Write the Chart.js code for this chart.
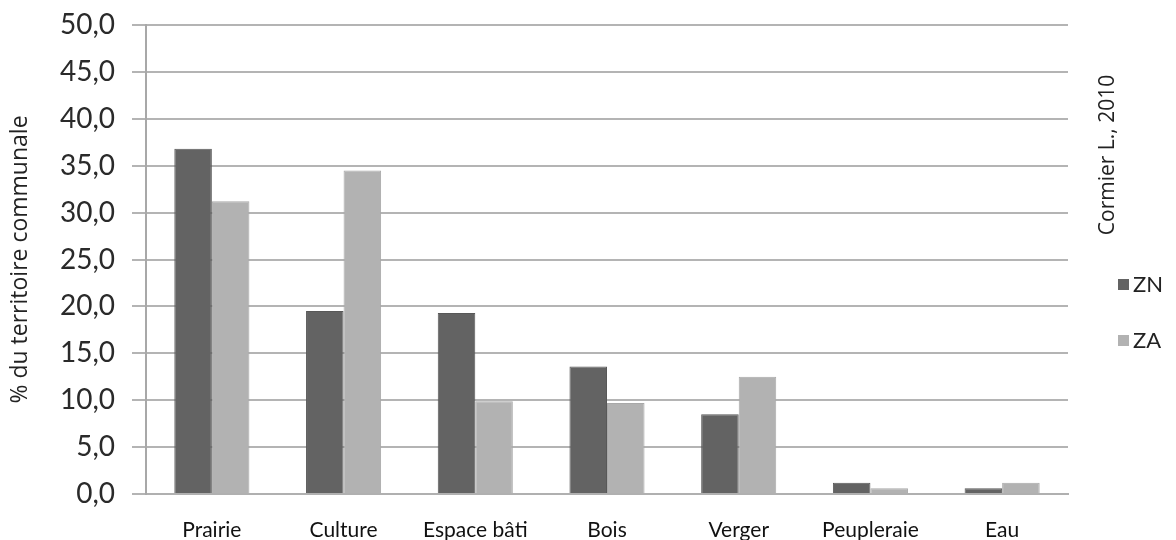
<!DOCTYPE html>
<html>
<head>
<meta charset="utf-8">
<script src="https://cdn.jsdelivr.net/npm/chart.js@4.4.0/dist/chart.umd.min.js"></script>
<style>
  html, body { margin: 0; padding: 0; background: #fff; }
  #wrap { width: 1176px; height: 540px; }
</style>
</head>
<body>
<div id="wrap"><canvas id="landChart" width="1176" height="540"></canvas></div>
<script>
const categories = ['Prairie', 'Culture', 'Espace bâti', 'Bois', 'Verger', 'Peupleraie', 'Eau'];
const znValues = [36.8, 19.5, 19.3, 13.6, 8.5, 1.2, 0.6];
const zaValues = [31.2, 34.5, 9.9, 9.7, 12.5, 0.6, 1.2];
const seriesNames = ['ZN', 'ZA'];
const sourceNote = 'Cormier L., 2010';
const yTitle = '% du territoire communale';

// legend on the right + source note, drawn from the datasets
const sideLegend = {
    id: 'sideLegend',
    afterDraw(chart) {
        const ctx = chart.ctx;
        ctx.save();
        chart.data.datasets.forEach((ds, i) => {
            const y = 284 + i * 56;
            ctx.fillStyle = ds.backgroundColor;
            ctx.fillRect(1118, y - 5, 11, 11);
            ctx.fillStyle = '#222';
            ctx.font = '22px Lato';
            ctx.textBaseline = 'middle';
            ctx.fillText(ds.label, 1133, y + 1);
        });
        ctx.translate(1108, 155);
        ctx.rotate(-Math.PI / 2);
        ctx.textAlign = 'center';
        ctx.textBaseline = 'middle';
        ctx.font = '21px "Open Sans"';
        ctx.fillStyle = '#222';
        ctx.fillText(sourceNote, 0, 0);
        ctx.restore();
    }
};

const ctx = document.getElementById('landChart').getContext('2d');
new Chart(ctx, {
    type: 'bar',
    data: {
        labels: categories,
        datasets: [
            {
                label: seriesNames[0],
                data: znValues,
                backgroundColor: '#636363',
                borderColor: '#585858',
                borderWidth: 1
            },
            {
                label: seriesNames[1],
                data: zaValues,
                backgroundColor: '#b2b2b2',
                borderColor: '#a8a8a8',
                borderWidth: 1
            }
        ]
    },
    options: {
        responsive: false,
        animation: false,
        layout: { padding: { top: 25, right: 108, bottom: 0, left: 0 } },
        categoryPercentage: 0.57,
        barPercentage: 1.0,
        plugins: {
            legend: { display: false },
            tooltip: { enabled: false }
        },
        scales: {
            x: {
                afterFit: s => { s.height = 46; },
                grid: { display: false },
                border: { color: '#b0b0b0', width: 2 },
                ticks: {
                    color: '#111',
                    font: { family: 'Lato', size: 21 },
                    padding: 16
                }
            },
            y: {
                min: 0,
                max: 50,
                afterFit: s => {
                    s.width = 146;
                    s.paddingTop = 0;
                    s.paddingBottom = 0;
                },
                ticks: {
                    stepSize: 5,
                    color: '#2a2a2a',
                    font: { family: 'Lato', size: 28 },
                    padding: 17,
                    callback: v => v.toFixed(1).replace('.', ',')
                },
                grid: { color: '#b4b4b4', lineWidth: 2, tickLength: 14 },
                border: { color: '#a8a8a8', width: 2 },
                title: {
                    display: true,
                    text: yTitle,
                    color: '#222',
                    font: { family: 'Open Sans', size: 23 },
                    padding: { top: 7, bottom: 10 }
                }
            }
        }
    },
    plugins: [sideLegend]
});
</script>
</body>
</html>
